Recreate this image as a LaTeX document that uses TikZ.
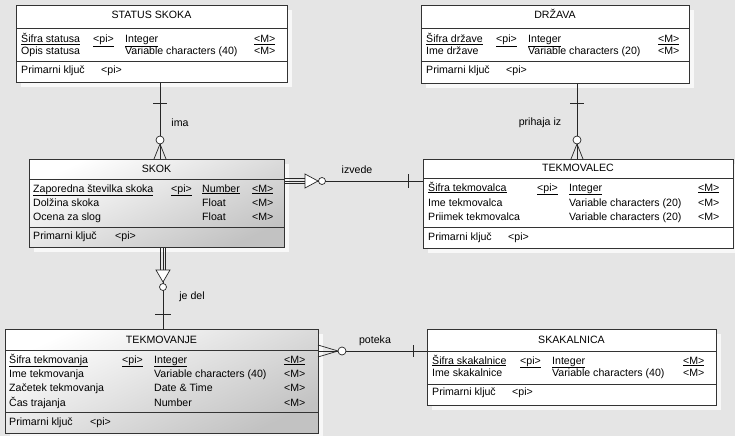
\documentclass[tikz,border=0pt]{standalone}
\usepackage{fontspec}
\setmainfont{Liberation Sans}
\usetikzlibrary{calc,shadows}

\tikzset{
  entity/.style={draw=black!80, line width=0.8pt, fill=white, anchor=north west, inner sep=0pt,
    drop shadow={shadow xshift=5pt, shadow yshift=-5pt, fill=white, opacity=0.75}},
  dependent/.style={entity, top color=white, bottom color=black!24, shading angle=25},
  txt/.style={inner sep=0pt, text height=8pt, text depth=2pt, font=\fontsize{10.6}{12}\selectfont},
  attr/.style={txt, anchor=west},
  link/.style={line width=0.7pt, draw=black!85},
  sep/.style={line width=0.8pt, draw=black!80}
}

\begin{document}
\begin{tikzpicture}[x=1pt, y=-1pt]
\useasboundingbox[fill=black!10] (0,0) rectangle (735,436);

% Entities
\node[entity, minimum width=271pt, minimum height=77pt] (status) at (16,5) {};
\node[entity, minimum width=268pt, minimum height=78pt] (drzava) at (421,5) {};
\node[dependent, minimum width=255pt, minimum height=88pt] (skok) at (29,159) {};
\node[entity, minimum width=310pt, minimum height=89pt] (tekmovalec) at (423,159) {};
\node[dependent, minimum width=313pt, minimum height=104pt] (tekmovanje) at (5,329) {};
\node[entity, minimum width=289pt, minimum height=76pt] (skakalnica) at (427,329) {};

% Separators (title / attributes / keys)
\foreach \e/\a/\b in {status/23/56, drzava/23/56, skok/20/68, tekmovalec/19/68, tekmovanje/21/83, skakalnica/22/55} {
  \draw[sep] ($(\e.north west)+(0,\a)$) -- ($(\e.north east)+(0,\a)$);
  \draw[sep] ($(\e.north west)+(0,\b)$) -- ($(\e.north east)+(0,\b)$);
}

% Titles
\node[txt] (status-t) at (151.5,16) {STATUS SKOKA};
\node[txt] (drzava-t) at (555,16) {DRŽAVA};
\node[txt] (skok-t) at (156.5,169) {SKOK};
\node[txt] (tekmovalec-t) at (578,168) {TEKMOVALEC};
\node[txt] (tekmovanje-t) at (161.5,340) {TEKMOVANJE};
\node[txt] (skakalnica-t) at (571.5,340) {SKAKALNICA};

% Attributes
\foreach \x/\y/\t [count=\i] in {21/40/\underline{Šifra statusa}, 93/40/\underline{<pi>}, 125/40/\underline{Integer}, 254/40/\underline{<M>},
    21/52/Opis statusa, 125/52/Variable characters (40), 254/52/<M>,
    21/71/Primarni ključ, 101/71/<pi>}
  \node[attr] (status-\i) at (\x,\y) {\t};

\foreach \x/\y/\t [count=\i] in {426/40/\underline{Šifra države}, 496/40/\underline{<pi>}, 528/40/\underline{Integer}, 658/40/\underline{<M>},
    426/52/Ime države, 528/52/Variable characters (20), 658/52/<M>,
    426/71/Primarni ključ, 506/71/<pi>}
  \node[attr] (drzava-\i) at (\x,\y) {\t};

\foreach \x/\y/\t [count=\i] in {33/189/\underline{Zaporedna številka skoka}, 171/189/\underline{<pi>}, 202/189/\underline{Number}, 252/189/\underline{<M>},
    33/203/Dolžina skoka, 202/203/Float, 252/203/<M>,
    33/217/Ocena za slog, 202/217/Float, 252/217/<M>,
    33/236/Primarni ključ, 115/236/<pi>}
  \node[attr] (skok-\i) at (\x,\y) {\t};

\foreach \x/\y/\t [count=\i] in {428/188/\underline{Šifra tekmovalca}, 537/188/\underline{<pi>}, 569/188/\underline{Integer}, 698/188/\underline{<M>},
    428/203/Ime tekmovalca, 569/203/Variable characters (20), 698/203/<M>,
    428/217/Priimek tekmovalca, 569/217/Variable characters (20), 698/217/<M>,
    428/237/Primarni ključ, 508/237/<pi>}
  \node[attr] (tekmovalec-\i) at (\x,\y) {\t};

\foreach \x/\y/\t [count=\i] in {9/360/\underline{Šifra tekmovanja}, 122/360/\underline{<pi>}, 154/360/\underline{Integer}, 284/360/\underline{<M>},
    9/374/Ime tekmovanja, 154/374/Variable characters (40), 284/374/<M>,
    9/388/Začetek tekmovanja, 154/388/Date \& Time, 284/388/<M>,
    9/403/Čas trajanja, 154/403/Number, 284/403/<M>,
    9/422/Primarni ključ, 90/422/<pi>}
  \node[attr] (tekmovanje-\i) at (\x,\y) {\t};

\foreach \x/\y/\t [count=\i] in {432/361/\underline{Šifra skakalnice}, 520/361/\underline{<pi>}, 552/361/\underline{Integer}, 683/361/\underline{<M>},
    432/373/Ime skakalnice, 552/373/Variable characters (40), 683/373/<M>,
    432/392/Primarni ključ, 512/392/<pi>}
  \node[attr] (skakalnica-\i) at (\x,\y) {\t};

% Relationship: ima
\draw[link] (status.south -| 160,0) -- (skok.north -| 160,0);
\draw[link] (153,103) -- (167,103);
\draw[link] (154,159) -- (160,144) -- (166,159);
\draw[link, fill=white] (160,140) circle (4pt);
\node[txt] (ima) at (180,123) {ima};

% Relationship: prihaja iz
\draw[link] (drzava.south -| 577,0) -- (tekmovalec.north -| 577,0);
\draw[link] (570,103) -- (584,103);
\draw[link] (571,159) -- (577,144) -- (583,159);
\draw[link, fill=white] (577,140) circle (4pt);
\node[txt] (prihaja) at (540,122) {prihaja iz};

% Relationship: izvede
\draw[link] (skok.east |- 0,181) -- (tekmovalec.west |- 0,181);
\draw[link] (skok.east |- 0,178.5) -- (305,178.5);
\draw[link] (skok.east |- 0,183.5) -- (305,183.5);
\draw[link, fill=white] (305,174) -- (318,181) -- (305,188) -- cycle;
\draw[link, fill=white] (322,181) circle (3.5pt);
\draw[link] (408,174) -- (408,188);
\node[txt] (izvede) at (357,170) {izvede};

% Relationship: je del
\draw[link] (skok.south -| 163,0) -- (tekmovanje.north -| 163,0);
\draw[link] (skok.south -| 160.5,0) -- (160.5,270);
\draw[link] (skok.south -| 165.5,0) -- (165.5,270);
\draw[link, fill=white] (156,270) -- (170,270) -- (163,282) -- cycle;
\draw[link, fill=white] (163,287) circle (3.5pt);
\draw[link] (155,314) -- (171,314);
\node[txt] (jedel) at (192,296) {je del};

% Relationship: poteka
\draw[link] (tekmovanje.east |- 0,351) -- (skakalnica.west |- 0,351);
\draw[link] (318,345) -- (338,351) -- (318,357);
\draw[link, fill=white] (342,351) circle (4pt);
\draw[link] (413,345) -- (413,357);
\node[txt] (poteka) at (375,340) {poteka};

\end{tikzpicture}
\end{document}
